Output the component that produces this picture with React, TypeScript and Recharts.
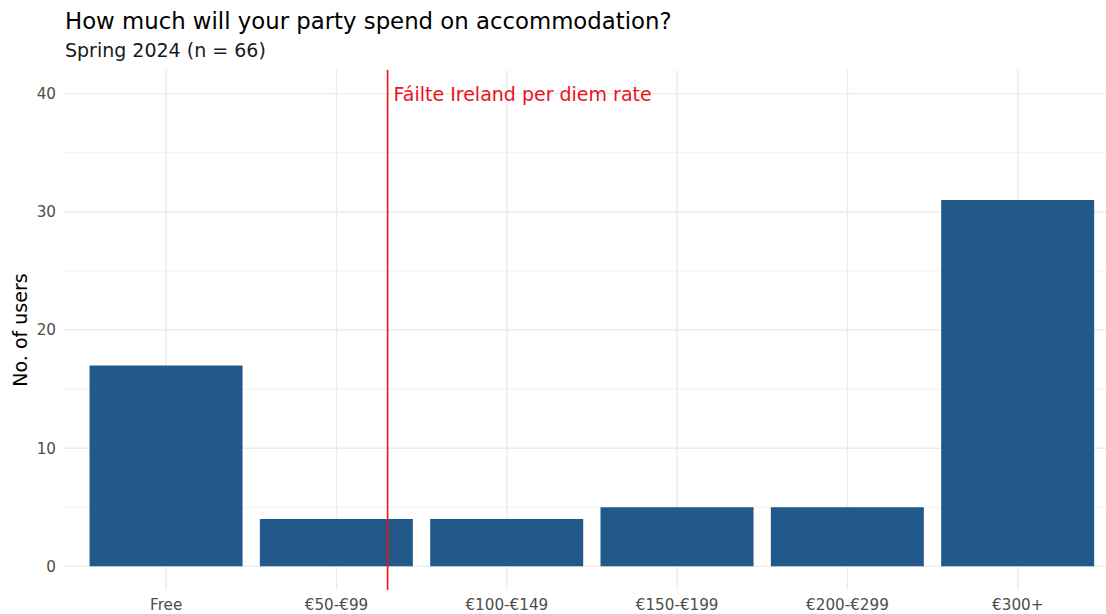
import { BarChart, Bar, XAxis, YAxis, CartesianGrid, ReferenceLine } from "recharts";

const categories = ["Free", "€50-€99", "€100-€149", "€150-€199", "€200-€299", "€300+"];
const users = [17, 4, 4, 5, 5, 31];
const xTicks = [1, 2, 3, 4, 5, 6];
const yTicks = [0, 10, 20, 30, 40];
const yMinorTicks = [5, 15, 25, 35];
const perDiemPosition = 2.3;
const perDiemLabel = "Fáilte Ireland per diem rate";

const Y_MIN = -2;
const Y_MAX = 42;

const data = categories.map((name, i) => ({ idx: xTicks[i], name, users: users[i] }));

const RED = "#ec1219";
const GREY_TEXT = "#4d4d4d";

function RateLabel(props: any) {
  const vb = props.viewBox || {};
  const y = vb.y + (vb.height * (Y_MAX - 40)) / (Y_MAX - Y_MIN);
  return (
    <text x={vb.x + 6} y={y} fill={RED} fontSize={19} dominantBaseline="central">
      {perDiemLabel}
    </text>
  );
}

export default function App() {
  return (
    <div
      style={{
        position: "absolute",
        left: 0,
        top: 0,
        width: 1106,
        height: 614,
        overflow: "hidden",
        background: "#fff",
        fontFamily: "'DejaVu Sans', sans-serif",
      }}
    >
      <div style={{ position: "absolute", left: 65, top: 10, fontSize: 22.8, lineHeight: 1, color: "#000", whiteSpace: "nowrap" }}>
        How much will your party spend on accommodation?
      </div>
      <div style={{ position: "absolute", left: 65, top: 41, fontSize: 19, lineHeight: 1, color: "#1a1a1a", whiteSpace: "nowrap" }}>
        Spring 2024 (n = 66)
      </div>
      <div
        style={{
          position: "absolute",
          left: 20,
          top: 330,
          transform: "translate(-50%, -50%) rotate(-90deg)",
          fontSize: 19,
          lineHeight: 1,
          color: "#000",
          whiteSpace: "nowrap",
        }}
      >
        No. of users
      </div>
      <div style={{ position: "absolute", left: 0, top: 0 }}>
        <BarChart width={1120} height={614} data={data} margin={{ top: 70, right: 0, bottom: 0, left: 0 }} barCategoryGap="5%">
          <CartesianGrid stroke="#ebebeb" strokeWidth={0.7} vertical={false} horizontalValues={yMinorTicks} syncWithTicks />
          <CartesianGrid stroke="#ebebeb" strokeWidth={1.4} syncWithTicks />
          <XAxis
            dataKey="idx"
            type="number"
            domain={[0.4, 6.6]}
            ticks={xTicks}
            interval={0}
            tickFormatter={(v: number) => categories[v - 1]}
            axisLine={false}
            tickLine={false}
            tickSize={0}
            tickMargin={9}
            height={24}
            tick={{ fill: GREY_TEXT, fontSize: 15.2 }}
          />
          <YAxis
            domain={[Y_MIN, Y_MAX]}
            ticks={yTicks}
            allowDataOverflow
            axisLine={false}
            tickLine={false}
            tickSize={0}
            tickMargin={8}
            width={64}
            tick={{ fill: GREY_TEXT, fontSize: 15.2 }}
          />
          <Bar dataKey="users" fill="#22588a" isAnimationActive={false} />
          <ReferenceLine x={perDiemPosition} stroke={RED} strokeWidth={1.6} label={RateLabel} />
        </BarChart>
      </div>
    </div>
  );
}
